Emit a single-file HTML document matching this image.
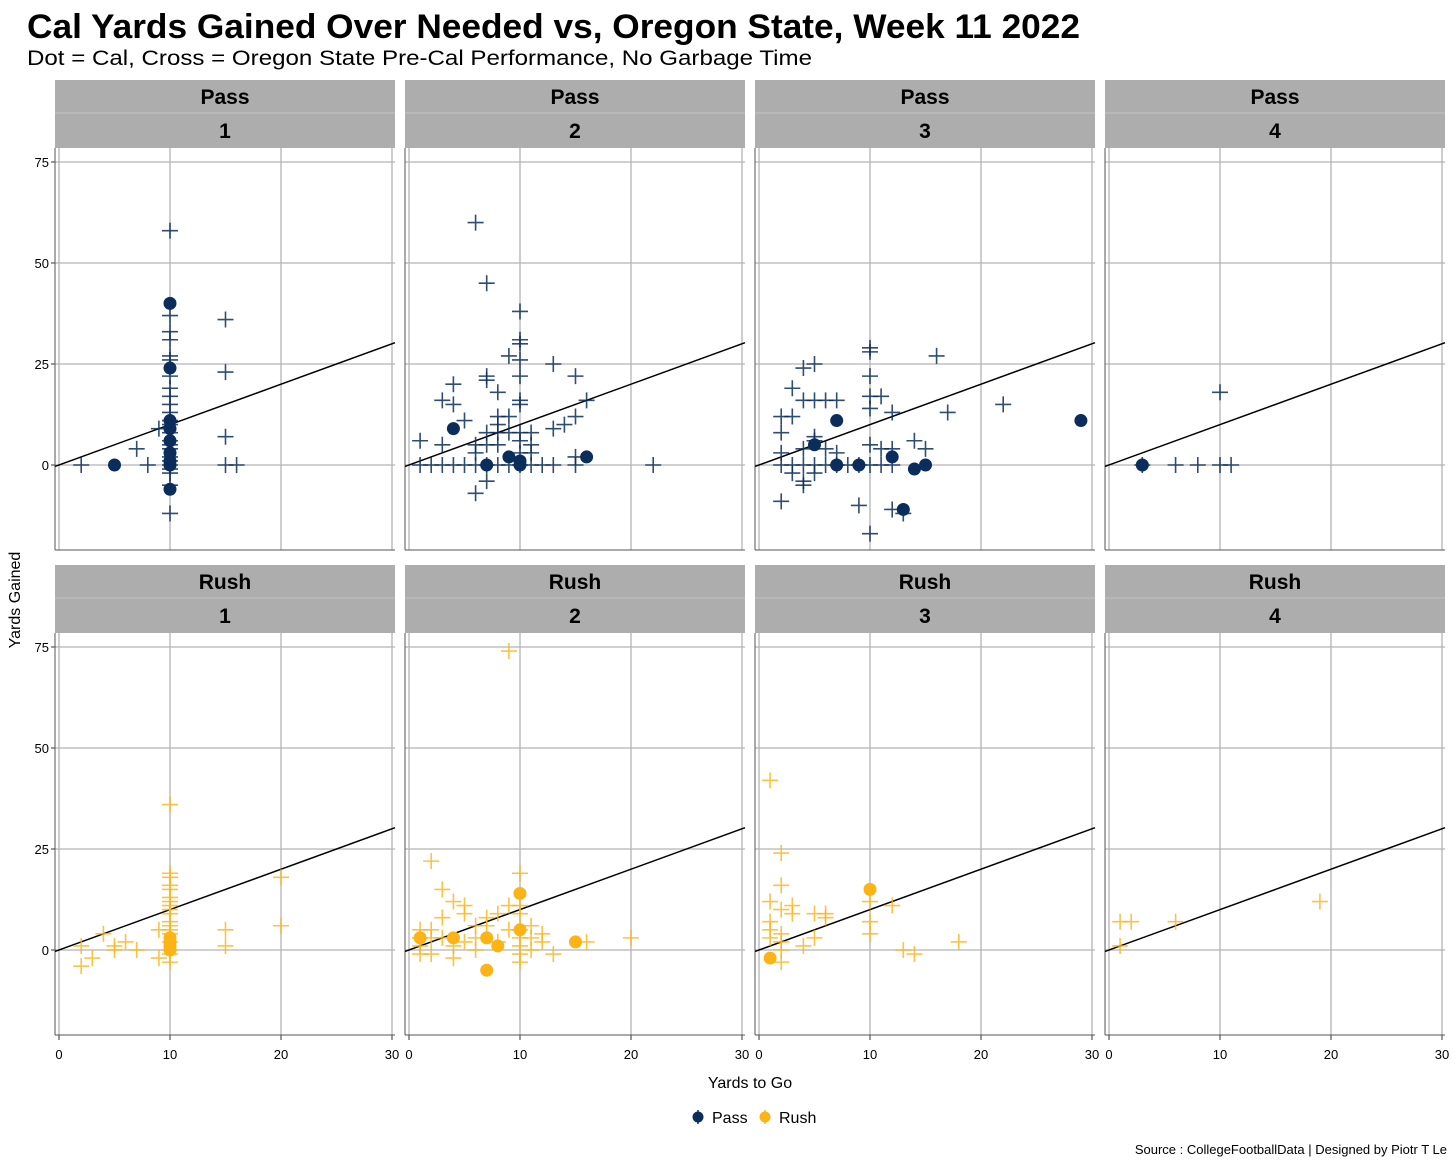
<!DOCTYPE html>
<html><head><meta charset="utf-8"><style>
body{margin:0;background:#fff;font-family:"Liberation Sans",sans-serif}
svg{display:block}
</style></head><body>
<svg id="c" width="1456" height="1165" xmlns="http://www.w3.org/2000/svg">
<text x="27" y="38" font-size="34" font-weight="bold" fill="#000" textLength="1053" lengthAdjust="spacingAndGlyphs">Cal Yards Gained Over Needed vs, Oregon State, Week 11 2022</text>
<text x="27" y="65" font-size="21" fill="#000" textLength="785" lengthAdjust="spacingAndGlyphs">Dot = Cal, Cross = Oregon State Pre-Cal Performance, No Garbage Time</text>
<text x="20" y="600" font-size="16" transform="rotate(-90 20 600)" text-anchor="middle">Yards Gained</text>
<text x="750" y="1088" font-size="16" text-anchor="middle">Yards to Go</text>
<g>
<line x1="698" y1="1110" x2="698" y2="1124" stroke="#0b2d5b" stroke-width="1.5"/><circle cx="698" cy="1117" r="5.5" fill="#0b2d5b"/>
<text x="712" y="1123" font-size="16">Pass</text>
<line x1="765" y1="1110" x2="765" y2="1124" stroke="#fbb316" stroke-width="1.5"/><circle cx="765" cy="1117" r="5.5" fill="#fbb316"/>
<text x="779" y="1123" font-size="16">Rush</text>
</g>
<text x="1447" y="1154" font-size="13" text-anchor="end">Source : CollegeFootballData | Designed by Piotr T Le</text>
</svg>
<script>
const panelTitles = [["Pass","1"],["Pass","2"],["Pass","3"],["Pass","4"],["Rush","1"],["Rush","2"],["Rush","3"],["Rush","4"]];
const xTicks = [0,10,20,30];
const yTicks = [0,25,50,75];
const pass1Cross = [[2,0],[7,4],[8,0],[9,9],[10,58],[10,37],[10,33],[10,31],[10,27],[10,26],[10,22],[10,19],[10,17],[10,15],[10,13],[10,11],[10,10],[10,8],[10,6],[10,5],[10,4],[10,2],[10,1],[10,0],[10,-1],[10,-2],[10,-5],[10,-12],[15,36],[15,23],[15,7],[15,0],[16,0]];
const pass1Dot = [[5,0],[10,40],[10,24],[10,11],[10,9],[10,6],[10,3],[10,1],[10,0],[10,-6]];
const pass2Cross = [[6,60],[7,45],[10,38],[10,31],[10,30],[9,27],[10,26],[13,25],[10,22],[15,22],[7,22],[7,21],[4,20],[8,18],[3,16],[10,16],[16,16],[4,15],[10,15],[15,12],[5,11],[14,10],[13,9],[8,12],[8,10],[9,12],[8,8],[9,8],[7,8],[10,8],[11,8],[1,6],[10,6],[11,5],[3,5],[6,5],[7,5],[8,5],[10,3],[11,3],[6,3],[1,0],[2,0],[3,0],[4,0],[5,0],[6,0],[7,0],[8,0],[9,0],[10,0],[11,0],[12,0],[13,0],[15,0],[15,2],[22,0],[7,-4],[6,-7]];
const pass2Dot = [[4,9],[7,0],[9,2],[10,1],[10,0],[16,2]];
const pass3Cross = [[10,29],[10,28],[16,27],[4,24],[5,25],[3,19],[4,16],[5,16],[6,16],[7,16],[10,22],[10,17],[10,14],[11,17],[12,13],[17,13],[22,15],[2,12],[3,12],[2,8],[5,7],[5,6],[2,3],[4,4],[6,4],[7,3],[10,5],[11,4],[12,4],[14,6],[15,4],[2,0],[3,0],[4,0],[5,0],[6,0],[7,0],[8,0],[9,0],[10,0],[11,0],[12,0],[4,-4],[4,-5],[2,-9],[9,-10],[12,-11],[13,-12],[10,-17],[5,-2],[3,-2]];
const pass3Dot = [[7,11],[5,5],[7,0],[9,0],[12,2],[14,-1],[15,0],[13,-11],[29,11]];
const pass4Cross = [[3,0],[6,0],[8,0],[10,0],[11,0],[10,18]];
const pass4Dot = [[3,0]];
const rush1Cross = [[2,1],[2,-4],[3,-2],[4,4],[5,1],[5,0],[6,2],[7,0],[9,5],[9,-2],[10,36],[10,19],[10,18],[10,16],[10,15],[10,13],[10,12],[10,11],[10,10],[10,9],[10,7],[10,6],[10,5],[10,4],[10,2],[10,0],[10,-1],[10,-3],[15,5],[15,1],[20,18],[20,6]];
const rush1Dot = [[10,3],[10,2],[10,1],[10,0]];
const rush2Cross = [[2,22],[3,15],[4,12],[5,11],[5,9],[3,8],[1,5],[2,5],[1,3],[2,3],[3,3],[1,1],[1,-1],[2,-1],[4,-2],[4,1],[5,2],[6,3],[6,6],[7,6],[7,8],[8,9],[9,11],[9,5],[10,19],[10,11],[10,9],[10,5],[10,3],[10,1],[10,-1],[10,-3],[11,6],[11,3],[11,0],[12,4],[12,2],[13,-1],[16,2],[20,3],[9,74],[6,0],[8,2]];
const rush2Dot = [[1,3],[4,3],[7,3],[8,1],[10,14],[10,5],[15,2],[7,-5]];
const rush3Cross = [[1,42],[2,24],[2,16],[2,10],[1,12],[1,7],[1,5],[1,3],[2,4],[2,2],[2,0],[2,-3],[3,11],[3,9],[4,1],[5,9],[5,3],[6,9],[6,8],[10,12],[10,7],[10,4],[12,11],[13,0],[14,-1],[18,2]];
const rush3Dot = [[1,-2],[10,15]];
const rush4Cross = [[1,7],[1,1],[2,7],[6,7],[19,12]];
const rush4Dot = [];
const crossSets=[pass1Cross,pass2Cross,pass3Cross,pass4Cross,rush1Cross,rush2Cross,rush3Cross,rush4Cross];
const dotSets=[pass1Dot,pass2Dot,pass3Dot,pass4Dot,rush1Dot,rush2Dot,rush3Dot,rush4Dot];

const svg=document.getElementById('c');const NS="http://www.w3.org/2000/svg";
function mk(t,a,p){const e=document.createElementNS(NS,t);for(const k in a)e.setAttribute(k,a[k]);(p||svg).appendChild(e);return e;}
const colX=[55,405,755,1105], PW=340;
const rowTop=[80,565], stripH=68, plotH=402;
for(let i=0;i<8;i++){
  const r=Math.floor(i/4), c=i%4;
  const x0=colX[c], st=rowTop[r], pt=st+stripH, pb=pt+plotH;
  const sx=v=>x0+4+v*11.1;
  const sy=v=>pt+317-v*4.04;
  const g=mk('g',{});
  
  
  const s=mk('rect',{x:x0,y:st,width:PW,height:stripH,fill:'#adadad'},g);
  
  
  mk('line',{x1:x0,x2:x0+PW,y1:st+33,y2:st+33,stroke:'#c4c4c4','stroke-width':1},g);
  const t1=mk('text',{x:x0+PW/2,y:st+24,'font-size':21,'font-weight':'bold','text-anchor':'middle'},g);t1.textContent=panelTitles[i][0];
  
  
  const t2=mk('text',{x:x0+PW/2,y:st+58,'font-size':21,'font-weight':'bold','text-anchor':'middle'},g);t2.textContent=panelTitles[i][1];
  
  
  xTicks.forEach(v=>{mk('line',{x1:sx(v),x2:sx(v),y1:pt,y2:pb,stroke:'#b3b3b3','stroke-width':1.3},g);
    if(r===1){const tt=mk('text',{x:sx(v),y:pb+24,'font-size':13,'text-anchor':'middle'},g);tt.textContent=v;
      
      
      mk('line',{x1:sx(v),x2:sx(v),y1:pb,y2:pb+5,stroke:'#333'},g);}});
  yTicks.forEach(v=>{mk('line',{x1:x0,x2:x0+PW,y1:sy(v),y2:sy(v),stroke:'#b3b3b3','stroke-width':1.3},g);
    if(c===0){const tt=mk('text',{x:x0-6,y:sy(v)+5,'font-size':13,'text-anchor':'end'},g);tt.textContent=v;
      
      
      mk('line',{x1:x0-4,x2:x0,y1:sy(v),y2:sy(v),stroke:'#333'},g);}});
  mk('line',{x1:x0,x2:x0,y1:pt,y2:pb,stroke:'#555','stroke-width':1},g);
  mk('line',{x1:x0,x2:x0+PW,y1:pb,y2:pb,stroke:'#555','stroke-width':1},g);
  const ln=mk('line',{x1:x0,y1:sy(-0.36),x2:x0+PW,y2:sy((PW-4)/11.1),stroke:'#000','stroke-width':1.5},g);
  
  
  const col=r===0?'#0b2d5b':'#fbb316', op=r===0?0.85:0.8;
  crossSets[i].forEach(p=>{const X=sx(p[0]),Y=sy(p[1]);
    const cg=mk('path',{d:`M${X-8} ${Y}H${X+8}M${X} ${Y-8}V${Y+8}`,stroke:col,'stroke-width':1.6,fill:'none','stroke-opacity':op},g);
    
    });
  dotSets[i].forEach(p=>{const d=mk('circle',{cx:sx(p[0]),cy:sy(p[1]),r:6.5,fill:col},g);
    
    });
}
</script>
</body></html>
